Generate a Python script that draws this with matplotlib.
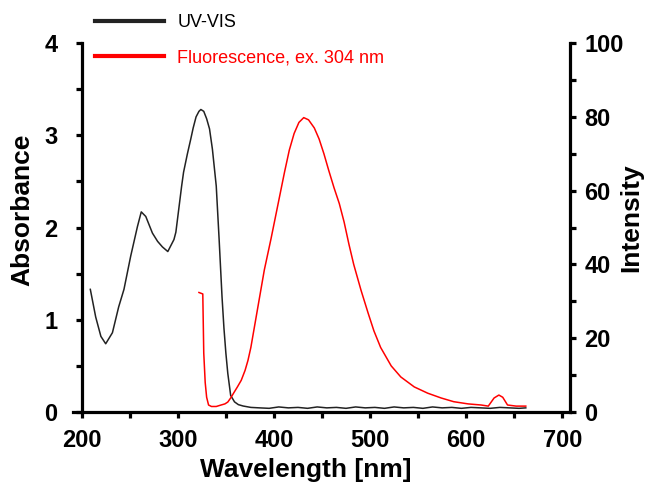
import numpy as np
import matplotlib
matplotlib.use("Agg")
import matplotlib.pyplot as plt
from matplotlib.ticker import MultipleLocator

# UV-VIS absorbance (left axis)
uv_wl = [209, 214.6, 220, 225, 232, 238.5, 244, 251, 258, 262, 266.7, 273.6, 279, 284,
         289.6, 296, 298, 301, 304, 306, 310, 313.5, 316, 319, 322, 324, 327, 330, 333,
         336, 340, 343, 346, 348, 350, 352, 355, 359, 363, 368, 376, 385, 395, 405, 415,
         425, 435, 445, 455, 465, 475, 485, 495, 505, 515, 525, 535, 545, 555, 565, 575,
         585, 595, 605, 615, 625, 635, 645, 655, 662]
uv_abs = [1.33, 1.03, 0.82, 0.74, 0.86, 1.14, 1.33, 1.69, 2.01, 2.17, 2.12, 1.94, 1.85, 1.79,
          1.74, 1.87, 1.95, 2.2, 2.45, 2.6, 2.8, 2.96, 3.08, 3.2, 3.26, 3.28, 3.26, 3.18, 3.07,
          2.85, 2.45, 1.87, 1.25, 0.91, 0.64, 0.42, 0.18, 0.11, 0.08, 0.065, 0.05, 0.045, 0.04,
          0.055, 0.045, 0.05, 0.04, 0.055, 0.045, 0.05, 0.04, 0.055, 0.045, 0.05, 0.04, 0.055,
          0.045, 0.05, 0.04, 0.055, 0.045, 0.05, 0.04, 0.05, 0.045, 0.04, 0.05, 0.045, 0.04, 0.045]

# Fluorescence intensity (right axis)
fl_wl = [322, 326, 327, 328.5, 330, 332, 335, 340, 345, 349, 352, 355, 358, 362, 366, 370,
         373, 376, 379, 383, 386, 390, 397, 404, 411, 416, 421, 426, 431, 436, 442, 447, 452,
         457, 462.5, 468, 473, 478, 483, 490.6, 498, 504, 511, 522, 532, 546, 560, 574, 587,
         602, 615.6, 623, 629, 634, 638, 643, 652, 662]
fl_int = [32.4, 32.0, 16, 8, 4, 1.9, 1.5, 1.5, 1.9, 2.2, 2.7, 3.8, 5.1, 6.8, 8.6, 11.3,
          14, 17.5, 22, 28, 32.5, 38.5, 47, 56, 65, 71, 75.5, 78.5, 79.8, 79.2, 77, 74, 70,
          65.5, 60.8, 56.5, 51.5, 45.5, 40, 33, 26.8, 22, 17.5, 12.5, 9.5, 6.8, 5.1, 3.8, 2.8,
          2.2, 1.9, 1.6, 3.8, 4.6, 4.0, 1.9, 1.6, 1.6]

tick_font = ['Liberation Sans Narrow', 'Liberation Sans', 'DejaVu Sans']
plt.rcParams['font.family'] = ['Liberation Sans', 'DejaVu Sans']

fig = plt.figure(figsize=(6.49, 4.88), dpi=100)
ax = fig.add_axes([0.1125, 0.1557, 0.7658, 0.756])
ax2 = ax.twinx()

l1, = ax.plot(uv_wl, uv_abs, color='#222222', lw=1.1, label='UV-VIS')
l2, = ax2.plot(fl_wl, fl_int, color='#ff0000', lw=1.1, label='Fluorescence, ex. 304 nm')

ax.set_xlim(191, 708)
ax.set_ylim(0, 4)
ax2.set_ylim(0, 100)

ax.spines['left'].set_position(('data', 200))
for s in ['top', 'right']:
    ax.spines[s].set_visible(False)
for s in ['top', 'left', 'bottom']:
    ax2.spines[s].set_visible(False)
for s in ['left', 'bottom']:
    ax.spines[s].set_linewidth(2.3)
ax2.spines['right'].set_linewidth(2.3)

ax.set_xticks(np.arange(200, 701, 100))
ax.xaxis.set_minor_locator(MultipleLocator(50))
ax.yaxis.set_major_locator(MultipleLocator(1))
ax.yaxis.set_minor_locator(MultipleLocator(0.5))
ax2.yaxis.set_major_locator(MultipleLocator(20))
ax2.yaxis.set_minor_locator(MultipleLocator(10))

ax.tick_params(axis='x', which='both', direction='out', length=4.5, width=2.3, pad=8)
ax.tick_params(axis='y', which='both', direction='out', length=4.5, width=2.3, pad=13)
ax2.tick_params(axis='y', which='both', direction='out', length=4.5, width=2.3, pad=6)

for lab in ax.get_xticklabels() + ax.get_yticklabels() + ax2.get_yticklabels():
    lab.set_fontfamily(tick_font)
    lab.set_fontweight('bold')
    lab.set_fontsize(17)

ax.set_xlabel('Wavelength [nm]', fontsize=19, fontweight='bold')
ax.set_ylabel('Absorbance', fontsize=19, fontweight='bold')
ax2.set_ylabel('Intensity', fontsize=19, fontweight='bold')
ax.xaxis.set_label_coords(0.468, -0.125)
ax.yaxis.set_label_coords(-0.078, 0.549)
ax2.yaxis.set_label_coords(1.099, 0.527)

leg = fig.legend([l1, l2], [l1.get_label(), l2.get_label()], loc='upper left',
                 bbox_to_anchor=(95 / 649, 1 - 14 / 488), frameon=False, fontsize=13,
                 borderpad=0, borderaxespad=0, handlelength=3.8, handletextpad=0.75,
                 labelspacing=1.0)
for line in leg.get_lines():
    line.set_linewidth(3)
leg.get_texts()[1].set_color('#ff0000')

fig.savefig('out.png', dpi=100)
